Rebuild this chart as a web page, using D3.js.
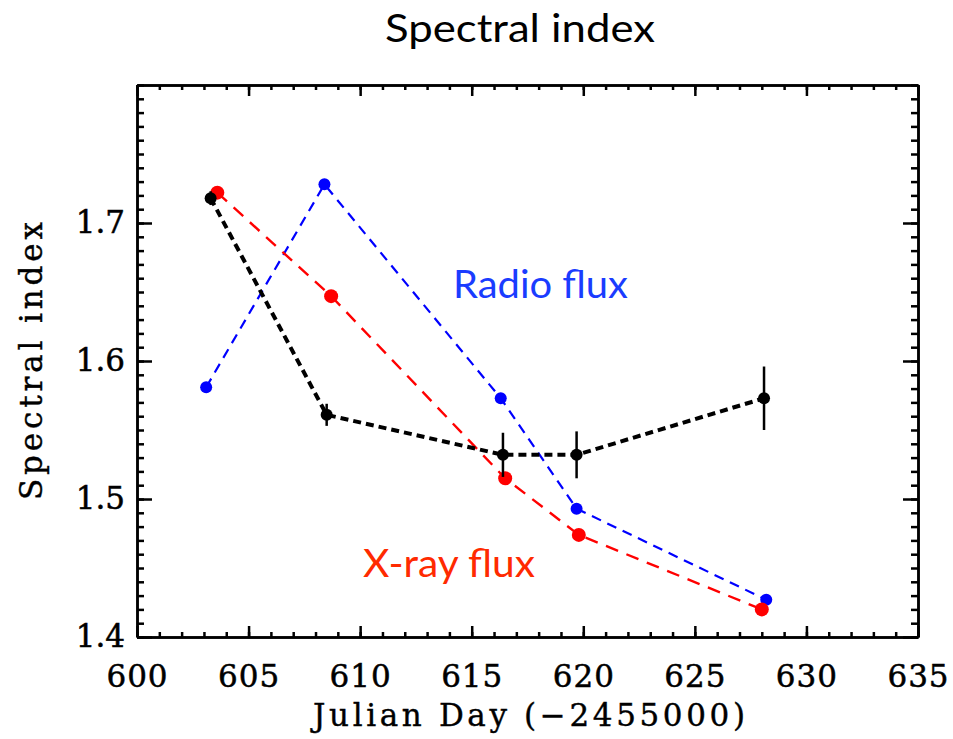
<!DOCTYPE html>
<html>
<head>
<meta charset="utf-8">
<script src="https://cdn.jsdelivr.net/npm/d3@7"></script>
<style>
  body { margin: 0; background: #fff; }
  .axis text { font-family: "DejaVu Serif", serif; font-size: 31px; fill: #000; stroke: #000; stroke-width: 0.5px; }
  .axis path, .axis line { stroke: #000; stroke-width: 2.5px; }
  .label { font-family: "DejaVu Serif", serif; font-size: 31px; fill: #000; stroke: #000; stroke-width: 0.4px; }
</style>
</head>
<body>
<div id="GraphDiv"></div>
<script>
// Global variables.
let width = 953
let height = 739
let plot = {"left": 137, "right": 918, "top": 85, "bottom": 637};

// Data.
const xTicks = [600, 605, 610, 615, 620, 625, 630, 635]
const yTicks = [1.4, 1.5, 1.6, 1.7]

// Spectral index (black, with error bars).
const specDays = [603.3, 608.5, 616.4, 619.7, 628.1]
const specIndex = [1.718, 1.561, 1.532, 1.532, 1.573]
const specErr = [0.005, 0.008, 0.016, 0.017, 0.023]

// X-ray flux (red).
const xrayDays = [603.6, 608.7, 616.5, 619.8, 628.0]
const xrayIndex = [1.722, 1.647, 1.515, 1.474, 1.420]

// Radio flux (blue).
const radioDays = [603.1, 608.4, 616.3, 619.7, 628.2]
const radioIndex = [1.581, 1.728, 1.573, 1.493, 1.427]

// Main svg element.
let svg = d3.select("#GraphDiv")
    .append("svg")
    .attr("width", width)
    .attr("height", height);

// Define axes ranges.
let xRange = d3.scaleLinear().domain([600, 635]).range([plot.left, plot.right]);
let yRange = d3.scaleLinear().domain([1.4, 1.8]).range([plot.bottom, plot.top]);

let xMinor = d3.range(600, 636, 1)
let yMinor = d3.range(140, 181, 1).map(d => d / 100)

// Minor ticks on all four sides.
svg.append("g").attr("class", "axis")
    .attr("transform", "translate(0," + plot.bottom + ")")
    .call(d3.axisBottom(xRange).tickValues(xMinor).tickSizeInner(-5).tickSizeOuter(0).tickFormat(""));
svg.append("g").attr("class", "axis")
    .attr("transform", "translate(0," + plot.top + ")")
    .call(d3.axisTop(xRange).tickValues(xMinor).tickSizeInner(-5).tickSizeOuter(0).tickFormat(""));
svg.append("g").attr("class", "axis")
    .attr("transform", "translate(" + plot.left + ",0)")
    .call(d3.axisLeft(yRange).tickValues(yMinor).tickSizeInner(-7).tickSizeOuter(0).tickFormat(""));
svg.append("g").attr("class", "axis")
    .attr("transform", "translate(" + plot.right + ",0)")
    .call(d3.axisRight(yRange).tickValues(yMinor).tickSizeInner(-7).tickSizeOuter(0).tickFormat(""));

// Major ticks with labels.
svg.append("g").attr("class", "axis")
    .attr("transform", "translate(0," + plot.bottom + ")")
    .call(d3.axisBottom(xRange).tickValues(xTicks).tickSizeInner(-11).tickSizeOuter(0).tickPadding(28).tickFormat(d3.format("d")))
    .selectAll("text").attr("letter-spacing", "1px");
svg.append("g").attr("class", "axis")
    .attr("transform", "translate(0," + plot.top + ")")
    .call(d3.axisTop(xRange).tickValues(xTicks).tickSizeInner(-11).tickSizeOuter(0).tickFormat(""));
svg.append("g").attr("class", "axis")
    .attr("transform", "translate(" + plot.left + ",0)")
    .call(d3.axisLeft(yRange).tickValues(yTicks).tickSizeInner(-15).tickSizeOuter(0).tickPadding(12).tickFormat(d3.format(".1f")));
svg.append("g").attr("class", "axis")
    .attr("transform", "translate(" + plot.right + ",0)")
    .call(d3.axisRight(yRange).tickValues(yTicks).tickSizeInner(-15).tickSizeOuter(0).tickFormat(""));

// Axes labels.
svg.append("text")
    .attr("class", "label")
    .attr("x", 313)
    .attr("y", 726)
    .attr("textLength", 432)
    .attr("lengthAdjust", "spacing")
    .text("Julian Day (\u22122455000)");

svg.append("text")
    .attr("class", "label")
    .attr("transform", "translate(42,500) rotate(-90)")
    .attr("textLength", 278)
    .attr("lengthAdjust", "spacing")
    .text("Spectral index");

// Title.
svg.append("text")
    .attr("x", 385)
    .attr("y", 42)
    .attr("textLength", 270)
    .attr("lengthAdjust", "spacingAndGlyphs")
    .style("font-family", "Lato, sans-serif")
    .style("font-size", "39px")
    .text("Spectral index");

// Series labels.
svg.append("text")
    .attr("x", 453)
    .attr("y", 298)
    .attr("textLength", 175)
    .attr("lengthAdjust", "spacingAndGlyphs")
    .style("font-family", "Lato, sans-serif")
    .style("font-size", "38px")
    .style("fill", "#1a3cff")
    .text("Radio flux");

svg.append("text")
    .attr("x", 363)
    .attr("y", 577)
    .attr("textLength", 172)
    .attr("lengthAdjust", "spacingAndGlyphs")
    .style("font-family", "Lato, sans-serif")
    .style("font-size", "38px")
    .style("fill", "#ff2a00")
    .text("X-ray flux");

// Draw one dashed series line.
function drawSeries(days, values, colour, lineWidth, dash) {
    let pts = days.map((d, i) => [d, values[i]])
    let line = d3.line().x(d => xRange(d[0])).y(d => yRange(d[1]))
    let g = svg.append("g")
    g.append("path")
        .datum(pts)
        .attr("d", line)
        .style("fill", "none")
        .style("stroke", colour)
        .style("stroke-width", lineWidth)
        .style("stroke-dasharray", dash);
    return g
}

// Radio flux.
let gRadio = drawSeries(radioDays, radioIndex, "#0000ff", 2.2, "10,7")
gRadio.selectAll("circle")
    .data(radioDays)
    .enter()
    .append("circle")
    .attr("cx", d => xRange(d))
    .attr("cy", (d, i) => yRange(radioIndex[i]))
    .attr("r", 6)
    .style("fill", "#0000ff");

// X-ray flux.
let gXray = drawSeries(xrayDays, xrayIndex, "#ff0000", 2.4, "13,9")
gXray.selectAll("circle")
    .data(xrayDays)
    .enter()
    .append("circle")
    .attr("cx", d => xRange(d))
    .attr("cy", (d, i) => yRange(xrayIndex[i]))
    .attr("r", 7)
    .style("fill", "#ff0000");

// Spectral index with error bars.
let gSpec = drawSeries(specDays, specIndex, "#000000", 4, "8,5")
gSpec.selectAll("line")
    .data(specDays)
    .enter()
    .append("line")
    .attr("x1", d => xRange(d))
    .attr("x2", d => xRange(d))
    .attr("y1", (d, i) => yRange(specIndex[i] - specErr[i]))
    .attr("y2", (d, i) => yRange(specIndex[i] + specErr[i]))
    .style("stroke", "#000")
    .style("stroke-width", 2.5);
gSpec.selectAll("circle")
    .data(specDays)
    .enter()
    .append("circle")
    .attr("cx", d => xRange(d))
    .attr("cy", (d, i) => yRange(specIndex[i]))
    .attr("r", 6)
    .style("fill", "#000");
</script>
</body>
</html>
